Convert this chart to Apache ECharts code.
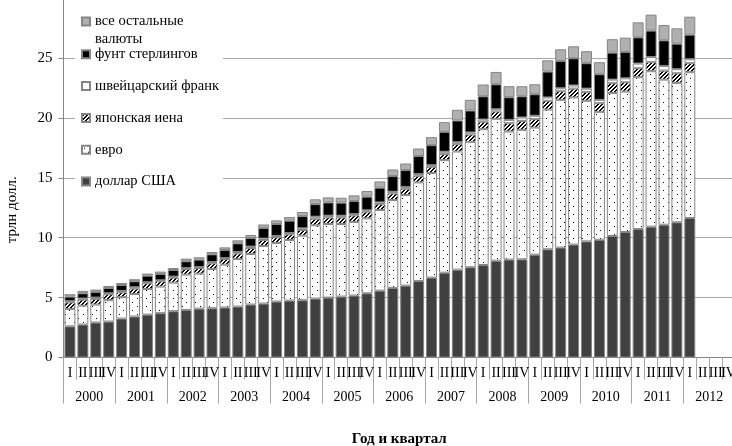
<!DOCTYPE html>
<html><head><meta charset="utf-8">
<script src="https://cdn.jsdelivr.net/npm/echarts@6/dist/echarts.min.js"></script>
<style>html,body{margin:0;padding:0;background:#fff}#c{width:732px;height:446px}</style>
</head><body><div id="c"></div>
<script>
const years = ['2000','2001','2002','2003','2004','2005','2006','2007','2008','2009','2010','2011','2012'];
const quarters = ['I','II','III','IV'];
const usd = [2.6,2.75,2.92,3.0, 3.25,3.42,3.58,3.7, 3.86,3.97,4.08,4.11, 4.17,4.25,4.42,4.5, 4.67,4.75,4.78,4.92, 5.0,5.08,5.17,5.36, 5.58,5.81,6.0,6.39, 6.67,7.08,7.33,7.53, 7.72,8.08,8.17,8.19, 8.58,9.03,9.17,9.42, 9.69,9.83,10.14,10.47, 10.72,10.92,11.08,11.28, 11.64];
const eur = [1.45,1.58,1.5,1.78, 1.78,1.88,2.14,2.22, 2.39,2.95,2.92,3.28, 3.58,3.97,4.22,4.8, 4.89,5.05,5.39,6.11, 6.14,6.06,6.14,6.25, 6.73,7.33,7.56,8.22, 8.72,9.39,9.86,10.47, 11.33,11.84,10.69,10.81, 10.61,11.66,12.33,12.28, 11.73,10.67,11.94,11.72, 12.67,12.97,12.11,11.64, 12.17];
const jpy = [0.55,0.5,0.47,0.5, 0.41,0.45,0.47,0.44, 0.42,0.47,0.47,0.47, 0.47,0.47,0.5,0.5, 0.47,0.48,0.47,0.55, 0.55,0.55,0.55,0.56, 0.49,0.55,0.52,0.56, 0.53,0.5,0.61,0.61, 0.62,0.61,0.69,0.75, 0.7,0.73,0.72,0.74, 0.75,0.72,0.81,0.78, 0.75,0.75,0.75,0.8, 0.75];
const chf = [0.1,0.09,0.11,0.08, 0.11,0.11,0.09,0.08, 0.08,0.08,0.08,0.11, 0.08,0.11,0.11,0.12, 0.11,0.11,0.14,0.17, 0.14,0.14,0.11,0.11, 0.14,0.14,0.14,0.14, 0.14,0.2,0.17,0.17, 0.19,0.19,0.28,0.28, 0.28,0.28,0.25,0.26, 0.27,0.28,0.3,0.33, 0.39,0.44,0.39,0.34, 0.33];
const gbp = [0.38,0.44,0.47,0.44, 0.5,0.5,0.55,0.53, 0.55,0.56,0.62,0.64, 0.67,0.73,0.72,0.88, 1.0,1.03,1.02,1.05, 1.11,1.09,1.09,1.14, 1.23,1.31,1.42,1.5, 1.66,1.66,1.81,1.83, 1.94,2.08,1.89,1.77, 1.8,2.16,2.28,2.27, 2.12,2.14,2.25,2.2, 2.19,2.2,2.14,2.13, 2.05];
const oth = [0.2,0.2,0.2,0.17, 0.17,0.17,0.17,0.2, 0.17,0.22,0.19,0.19, 0.22,0.25,0.25,0.3, 0.3,0.3,0.34,0.4, 0.42,0.41,0.47,0.47, 0.52,0.55,0.55,0.63, 0.67,0.81,0.89,0.89, 0.98,1.03,0.92,0.84, 0.83,0.94,0.97,1.0, 1.0,1.0,1.12,1.19, 1.25,1.33,1.28,1.28, 1.5];
const names = ['доллар США','евро','японская иена','швейцарский франк','фунт стерлингов','все остальные валюты'];

const categories = [];
years.forEach(y => quarters.forEach(q => categories.push(y + ' ' + q)));
const pad = arr => arr.concat(new Array(categories.length - arr.length).fill(null));

function pattern(w, h, draw) {
  const c = document.createElement('canvas'); c.width = w; c.height = h;
  draw(c.getContext('2d')); return c;
}
const dotPat = pattern(9, 8, g => {
  g.fillStyle = '#fff'; g.fillRect(0, 0, 9, 8);
  g.fillStyle = '#000'; g.fillRect(2, 2, 1, 1); g.fillRect(6, 6, 1, 1);
});
const hatchPat = pattern(4, 4, g => {
  g.fillStyle = '#000'; g.fillRect(0, 0, 4, 4);
  g.fillStyle = '#fff';
  for (let i = 0; i < 4; i++) { g.fillRect(i, 3 - i, 1, 1); g.fillRect((i + 1) % 4, 3 - i, 1, 1); }
});

const fills = ['#404040', {image: dotPat, repeat: 'repeat'}, {image: hatchPat, repeat: 'repeat'}, '#ffffff', '#000000', '#b0b0b0'];
const values = [usd, eur, jpy, chf, gbp, oth];
const FONT = "'Liberation Serif','Times New Roman',serif";

const chart = echarts.init(document.getElementById('c'), null, {renderer: 'canvas'});
chart.setOption({
  animation: false,
  textStyle: {fontFamily: FONT, color: '#000'},
  grid: {left: 63.5, right: -3, top: -2, bottom: 88.5, containLabel: false, outerBoundsMode: 'none'},
  legend: [{
    data: [names[5]], orient: 'vertical', left: 75, top: -5, icon: 'rect',
    padding: [0, 4, 0, 6], backgroundColor: '#fff',
    itemWidth: 8, itemHeight: 8, selectedMode: false,
    formatter: () => ' \nвсе остальные\nвалюты',
    textStyle: {fontFamily: FONT, fontSize: 14.5, lineHeight: 17.6, color: '#000'}
  }, {
    data: [names[4], names[3], names[2], names[1], names[0]], orient: 'vertical', left: 75, top: 42.5, icon: 'rect',
    padding: [3, 4, 4, 6], backgroundColor: '#fff',
    itemWidth: 8, itemHeight: 8, itemGap: 14.2, selectedMode: false,
    textStyle: {fontFamily: FONT, fontSize: 14.5, lineHeight: 17.6, color: '#000'}
  }],
  xAxis: [{
    type: 'category', data: categories, position: 'bottom',
    axisLine: {show: true, lineStyle: {color: '#868686'}},
    axisTick: {show: true, length: 22, lineStyle: {color: '#a6a6a6'}},
    axisLabel: {interval: 0, margin: 9, fontFamily: FONT, fontSize: 14, color: '#000',
      formatter: v => v.split(' ')[1]},
    splitLine: {show: false}
  }, {
    type: 'category', data: years, position: 'bottom', offset: 0,
    axisLine: {show: false},
    axisTick: {show: true, length: 46, lineStyle: {color: '#a6a6a6'}},
    axisLabel: {interval: 0, margin: 33, fontFamily: FONT, fontSize: 14, color: '#000'},
    name: 'Год и квартал', nameLocation: 'middle', nameGap: 74,
    nameTextStyle: {fontFamily: FONT, fontSize: 15, fontWeight: 'bold', color: '#000'}
  }],
  yAxis: {
    type: 'value', min: 0, max: 30, interval: 5,
    axisLine: {show: true, lineStyle: {color: '#868686'}},
    axisTick: {show: true, length: 5, lineStyle: {color: '#868686'}},
    axisLabel: {margin: 11, fontFamily: FONT, fontSize: 15, color: '#000',
      formatter: v => v === 30 ? '' : String(v)},
    splitLine: {show: true, lineStyle: {color: '#a6a6a6', width: 1}},
    name: 'трлн долл.', nameLocation: 'middle', nameGap: 44,
    nameTextStyle: {fontFamily: FONT, fontSize: 15, color: '#000', padding: [0, 64, 0, 0]}
  },
  series: names.map((n, i) => ({
    name: n, type: 'bar', stack: 'total', xAxisIndex: 0,
    barCategoryGap: '15%',
    data: pad(values[i]),
    itemStyle: {color: fills[i], borderColor: '#858585', borderWidth: 1}
  }))
});
</script></body></html>
